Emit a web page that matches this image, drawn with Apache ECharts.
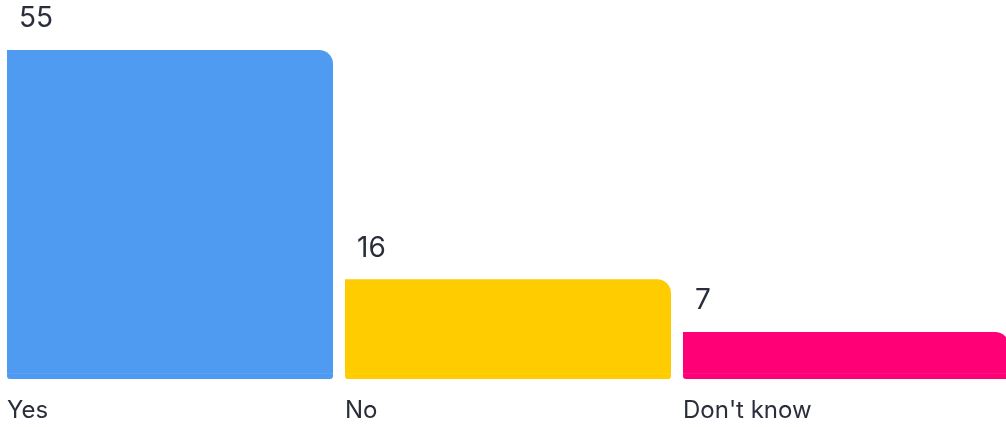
<!DOCTYPE html>
<html>
<head>
<meta charset="utf-8">
<script src="https://cdn.jsdelivr.net/npm/echarts@6/dist/echarts.min.js"></script>
<style>
  html, body { margin: 0; padding: 0; background: #fff; }
  #main { width: 1006px; height: 427px; }
</style>
</head>
<body>
<div id="main"></div>
<script>
// 数据
var categories = ['Yes', 'No', "Don't know"];
var counts = [55, 16, 7];
var barColors = ['#4E9BF1', '#FFCC00', '#FF0077'];

// 柱子底部多出的一小段（一个单位）
var barFloor = 1;
var textColor = '#2A2E3A';
var fontName = 'Inter';

function getBarChart() {
  let chart = echarts.init(document.getElementById('main'));
  let option = {
    animation: false,
    grid: {
      left: 1,
      right: -9,
      top: 50,
      bottom: 48,
      outerBoundsMode: 'none'
    },
    xAxis: {
      type: 'category',
      data: categories,
      axisLine: { show: false },
      axisTick: { show: false },
      axisLabel: {
        margin: 20,
        formatter: function (v) { return '{a|' + v + '}'; },
        rich: {
          a: {
            width: 326,
            align: 'left',
            fontSize: 24,
            fontFamily: fontName,
            color: textColor
          }
        }
      }
    },
    yAxis: {
      type: 'value',
      min: 0,
      max: 56,
      show: false
    },
    series: [
      {
        // 底座
        type: 'bar',
        stack: 'total',
        barWidth: 326,
        data: categories.map(function (c, i) {
          return {
            value: barFloor,
            itemStyle: { color: barColors[i], borderColor: barColors[i] }
          };
        }),
        itemStyle: {
          borderWidth: 1,
          borderRadius: [0, 0, 2, 2]
        }
      },
      {
        type: 'bar',
        stack: 'total',
        barWidth: 326,
        data: counts.map(function (v, i) {
          return { value: v, itemStyle: { color: barColors[i] } };
        }),
        itemStyle: {
          borderRadius: [0, 14, 0, 0]
        },
        label: {
          show: true,
          position: [12, -45],
          align: 'left',
          verticalAlign: 'top',
          fontSize: 28,
          fontFamily: fontName,
          color: textColor
        }
      }
    ]
  };
  chart.setOption(option);
}

getBarChart();
</script>
</body>
</html>
